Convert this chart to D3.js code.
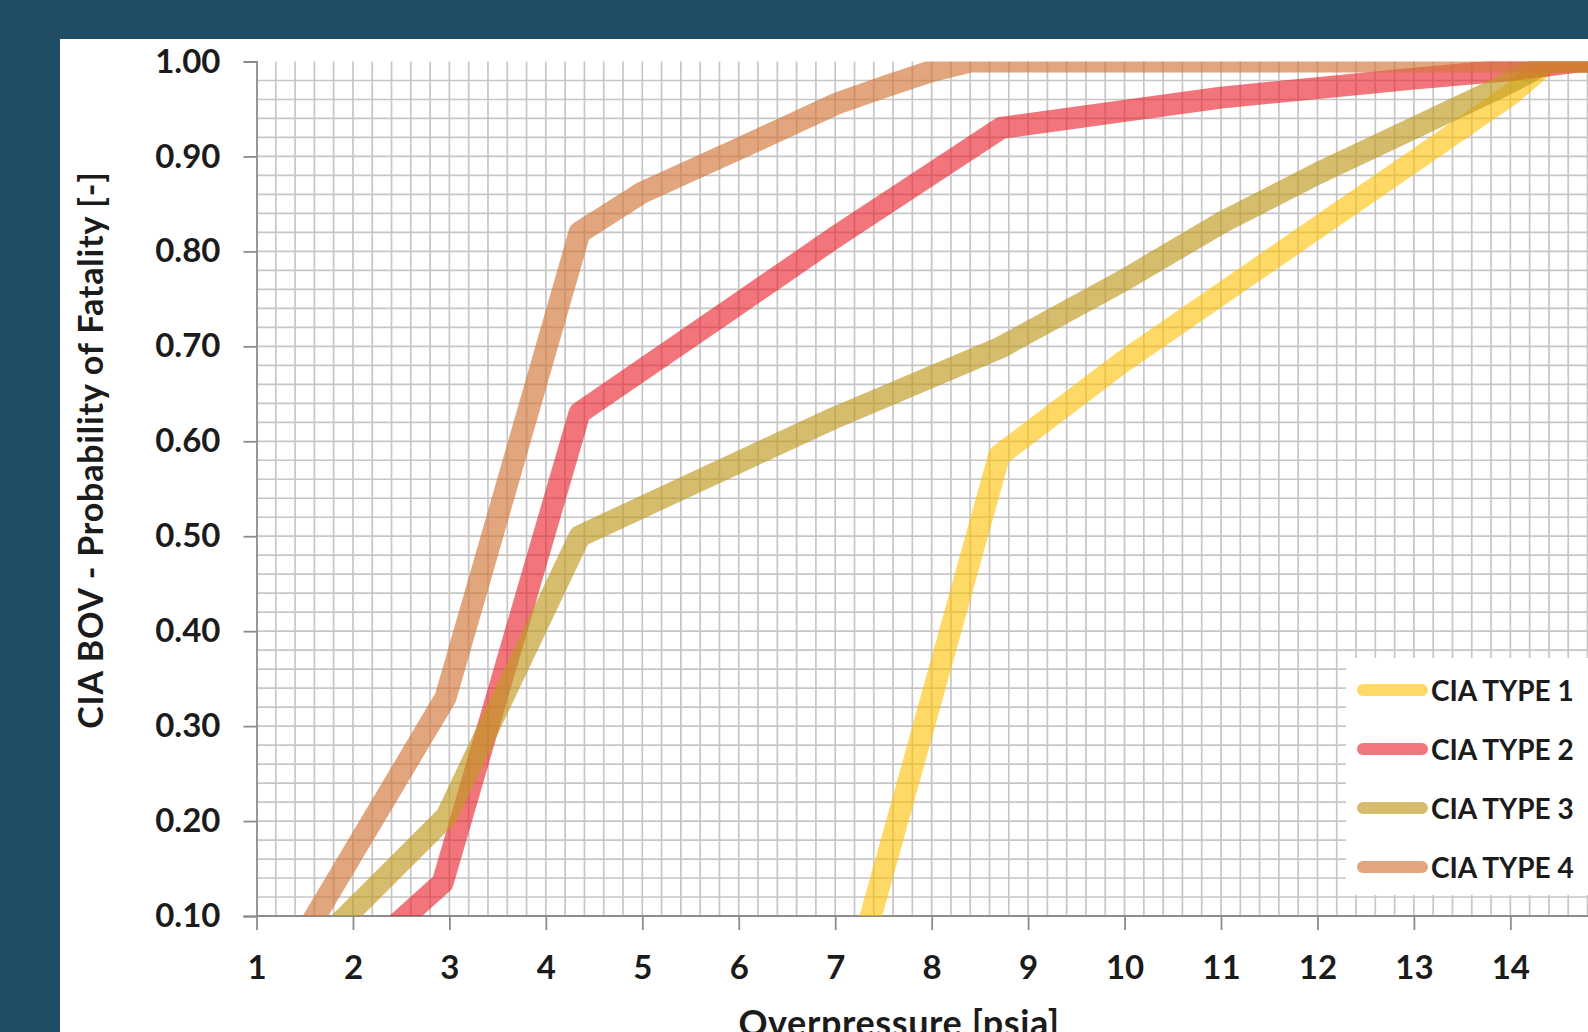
<!DOCTYPE html>
<html>
<head>
<meta charset="utf-8">
<script src="https://cdn.jsdelivr.net/npm/d3@7/dist/d3.min.js"></script>
<style>
  html, body { margin: 0; padding: 0; background: #1e4d65; overflow: hidden; }
  svg { display: block; }
  text { font-family: Lato, 'Noto Sans', sans-serif; font-weight: 700; fill: #1b1b1b; }
</style>
</head>
<body>
<div id="chart"></div>
<script>
// Tick values
const xTicks = [1, 2, 3, 4, 5, 6, 7, 8, 9, 10, 11, 12, 13, 14, 15];
const yTicks = [0.10, 0.20, 0.30, 0.40, 0.50, 0.60, 0.70, 0.80, 0.90, 1.00];

// Series: [overpressure psia, probability of fatality]
const seriesNames = ['CIA TYPE 1', 'CIA TYPE 2', 'CIA TYPE 3', 'CIA TYPE 4'];
const ciaType1 = [[7.15, 0.02], [8.7, 0.585], [10, 0.685], [11, 0.755], [12, 0.825], [13, 0.895], [14, 0.965], [14.4, 1.0], [15.2, 1.0]];
const ciaType2 = [[2.0, 0.05], [2.93, 0.135], [4.35, 0.63], [6, 0.745], [7, 0.815], [8.72, 0.93], [10, 0.948], [11, 0.962], [12, 0.972], [13, 0.982], [14, 0.991], [14.7, 1.0], [15.2, 1.0]];
const ciaType3 = [[1.5, 0.056], [2.97, 0.205], [4.35, 0.50], [6, 0.578], [7, 0.625], [8.7, 0.698], [10, 0.77], [11, 0.83], [12, 0.882], [13, 0.93], [14, 0.978], [14.4, 1.0], [15.2, 1.0]];
const ciaType4 = [[1.3, 0.047], [2.96, 0.33], [4.35, 0.82], [5, 0.862], [6, 0.908], [7, 0.955], [7.5, 0.973], [8, 0.99], [8.4, 1.0], [15.2, 1.0]];

const seriesData = [ciaType1, ciaType2, ciaType3, ciaType4];
const seriesColors = ['#ffc000', '#e8202a', '#c09a20', '#d2773a'];
const seriesOpacity = [0.6, 0.62, 0.65, 0.65];

const W = 1588, H = 1032;
const plot = { left: 256.5, top: 61.5, bottom: 916 };

const svg = d3.select('#chart').append('svg')
  .attr('width', W)
  .attr('height', H);

// White panel
svg.append('rect')
  .attr('x', 60).attr('y', 39)
  .attr('width', W - 60).attr('height', H - 39)
  .attr('fill', '#ffffff');

const x = d3.scaleLinear().domain([1, 14]).range([plot.left, plot.left + 13 * 96.45]);
const y = d3.scaleLinear().domain([0.1, 1.0]).range([plot.bottom, plot.top]);
const xMax = x(15);

// Grid
const grid = svg.append('g').attr('class', 'grid');
grid.selectAll('.vline')
  .data(d3.range(1.2, 15.01, 0.2))
  .enter().append('line')
  .attr('x1', d => x(d)).attr('x2', d => x(d))
  .attr('y1', y(1.0)).attr('y2', y(0.1))
  .attr('stroke', '#c6c6c6').attr('stroke-width', 1.7);
grid.selectAll('.hline')
  .data(d3.range(0.12, 0.99, 0.02))
  .enter().append('line')
  .attr('x1', plot.left).attr('x2', xMax)
  .attr('y1', d => y(d)).attr('y2', d => y(d))
  .attr('stroke', '#c6c6c6').attr('stroke-width', 1.7);

// X Axis
const xAxis = svg.append('g')
  .attr('transform', `translate(0,${plot.bottom})`)
  .call(d3.axisBottom(x).tickValues(xTicks).tickFormat(d3.format('d')).tickSizeOuter(0).tickSize(14).tickPadding(26));
xAxis.select('.domain').attr('stroke', '#8c8c8c').attr('stroke-width', 1.8).attr('d', `M${plot.left},0H${xMax}`);
xAxis.selectAll('.tick line').attr('stroke', '#8c8c8c').attr('stroke-width', 1.8);
xAxis.selectAll('.tick text')
  .style('font-size', '33px')
  .style('fill', '#1b1b1b');

// Y Axis
const yAxis = svg.append('g')
  .attr('transform', `translate(${plot.left},0)`)
  .call(d3.axisLeft(y).tickValues(yTicks).tickFormat(d3.format('.2f')).tickSizeOuter(0).tickSize(13).tickPadding(23));
yAxis.select('.domain').attr('stroke', '#8c8c8c').attr('stroke-width', 1.8);
yAxis.selectAll('.tick line').attr('stroke', '#8c8c8c').attr('stroke-width', 1.8)
  .filter(d => d === 1.0).remove();
yAxis.selectAll('.tick text')
  .style('font-size', '33px')
  .style('fill', '#1b1b1b');

// Axis titles
svg.append('text')
  .attr('transform', `translate(89,450) rotate(-90)`)
  .attr('text-anchor', 'middle')
  .attr('dominant-baseline', 'central')
  .style('font-size', '34px')
  .style('letter-spacing', '0.8px')
  .text('CIA BOV - Probability of Fatality [-]');

svg.append('text')
  .attr('x', 899)
  .attr('y', 1036)
  .attr('text-anchor', 'middle')
  .style('font-size', '36px')
  .style('letter-spacing', '0.6px')
  .text('Overpressure [psia]');

// Lines, clipped to the plot area
svg.append('defs').append('clipPath').attr('id', 'plot-clip')
  .append('rect')
  .attr('x', plot.left).attr('y', plot.top)
  .attr('width', xMax - plot.left).attr('height', plot.bottom - plot.top);

const line = d3.line()
  .x(d => x(d[0]))
  .y(d => y(d[1]));

svg.append('g')
  .attr('clip-path', 'url(#plot-clip)')
  .selectAll('path')
  .data(seriesData)
  .enter().append('path')
  .attr('d', line)
  .attr('fill', 'none')
  .attr('stroke', (d, i) => seriesColors[i])
  .attr('stroke-opacity', (d, i) => seriesOpacity[i])
  .attr('stroke-width', 22)
  .attr('stroke-linejoin', 'round');

// Legend
const legend = svg.append('g').attr('transform', 'translate(1346,658)');
legend.append('rect')
  .attr('width', 260).attr('height', 237)
  .attr('fill', '#ffffff');

const items = legend.selectAll('.item')
  .data(seriesNames)
  .enter().append('g')
  .attr('transform', (d, i) => `translate(0,${32 + i * 59})`);

items.append('line')
  .attr('x1', 17).attr('x2', 76)
  .attr('stroke', (d, i) => seriesColors[i])
  .attr('stroke-opacity', (d, i) => seriesOpacity[i])
  .attr('stroke-width', 12)
  .attr('stroke-linecap', 'round');

items.append('text')
  .attr('x', 85)
  .attr('dominant-baseline', 'central')
  .style('font-size', '28px')
  .text(d => d);
</script>
</body>
</html>
